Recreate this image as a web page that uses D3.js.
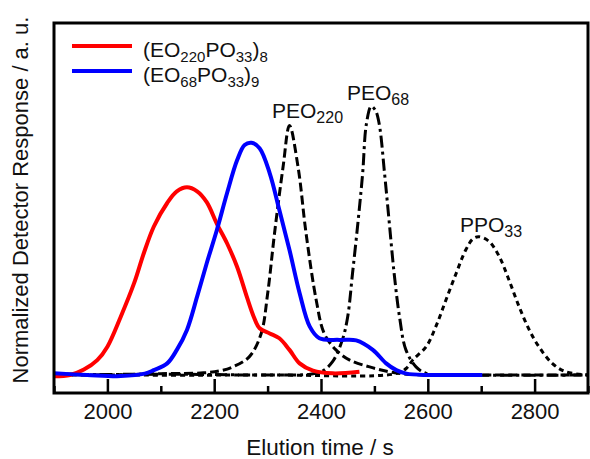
<!DOCTYPE html>
<html>
<head>
<meta charset="utf-8">
<script src="https://cdn.jsdelivr.net/npm/d3@7"></script>
<style>
  html, body { margin: 0; padding: 0; background: #fff; }
  svg { display: block; font-family: "Liberation Sans", Arial, sans-serif; }
</style>
</head>
<body>
<svg id="chart" width="590" height="459"></svg>
<script>
// Elution time (s) and normalized detector response for each trace
const redTime  = [1900, 1930, 1956, 1981, 2000, 2025, 2050, 2068, 2087, 2112, 2130, 2149, 2168, 2186, 2205, 2224, 2243, 2261, 2274, 2285, 2304, 2322, 2341, 2360, 2385, 2422, 2472];
const redValue = [-0.005, 0.0, 0.02, 0.055, 0.105, 0.216, 0.34, 0.45, 0.55, 0.637, 0.68, 0.695, 0.68, 0.64, 0.56, 0.488, 0.40, 0.29, 0.216, 0.173, 0.154, 0.136, 0.093, 0.043, 0.016, 0.006, 0.012];

const blueTime  = [1900, 1962, 2025, 2070, 2087, 2112, 2130, 2149, 2168, 2186, 2205, 2224, 2243, 2257, 2270, 2285, 2304, 2322, 2341, 2360, 2379, 2397, 2435, 2466, 2497, 2522, 2541, 2560, 2600, 2650, 2702];
const blueValue = [0.006, 0.0, -0.004, 0.005, 0.018, 0.043, 0.093, 0.167, 0.29, 0.414, 0.537, 0.673, 0.796, 0.852, 0.86, 0.84, 0.747, 0.611, 0.463, 0.303, 0.179, 0.136, 0.13, 0.128, 0.093, 0.043, 0.018, 0.005, 0.0, 0.0, 0.0];

const peo220Time  = [1900, 2000, 2100, 2180, 2210, 2235, 2266, 2288, 2300, 2313, 2329, 2341, 2357, 2372, 2391, 2406, 2428, 2453, 2491, 2528, 2560, 2700, 2900];
const peo220Value = [0.005, 0.0, 0.005, 0.008, 0.015, 0.03, 0.068, 0.154, 0.30, 0.525, 0.771, 0.924, 0.771, 0.525, 0.278, 0.154, 0.093, 0.056, 0.03, 0.012, 0.003, 0.0, 0.0];

const peo68Time  = [1900, 2100, 2300, 2380, 2403, 2422, 2440, 2450, 2459, 2469, 2478, 2485, 2494, 2502, 2509, 2519, 2528, 2537, 2547, 2559, 2578, 2597, 2650, 2900];
const peo68Value = [0.0, 0.003, 0.0, 0.003, 0.015, 0.05, 0.13, 0.216, 0.376, 0.561, 0.747, 0.93, 0.995, 0.98, 0.93, 0.747, 0.561, 0.376, 0.216, 0.093, 0.03, 0.006, 0.0, 0.0];

const ppo33Time  = [1900, 2300, 2540, 2560, 2572, 2597, 2615, 2634, 2653, 2671, 2685, 2696, 2715, 2734, 2752, 2771, 2790, 2808, 2833, 2858, 2900];
const ppo33Value = [0.0, 0.0, 0.005, 0.025, 0.056, 0.105, 0.179, 0.278, 0.376, 0.463, 0.505, 0.512, 0.494, 0.438, 0.352, 0.253, 0.167, 0.105, 0.043, 0.012, 0.0];

const majorTicks = [2000, 2200, 2400, 2600, 2800];
const minorTicks = [1900, 2100, 2300, 2500, 2700, 2900];

const svg = d3.select("#chart");
const plot = { left: 54, right: 588, top: 23, bottom: 393 };

const x = d3.scaleLinear().domain([1900, 2900]).range([plot.left, plot.right]);
const y = d3.scaleLinear().domain([-0.0667, 1.3037]).range([plot.bottom, plot.top]);

svg.append("defs").append("clipPath").attr("id", "plotClip")
  .append("rect")
  .attr("x", plot.left).attr("y", plot.top)
  .attr("width", plot.right - plot.left).attr("height", plot.bottom - plot.top);

const line = d3.line()
  .x(d => x(d[0]))
  .y(d => y(d[1]))
  .curve(d3.curveCatmullRom.alpha(0.5));

const traces = [
  { t: ppo33Time,  v: ppo33Value,  color: "#000", width: 3,   dash: "5,4" },
  { t: peo68Time,  v: peo68Value,  color: "#000", width: 3,   dash: "12,4,3,4" },
  { t: peo220Time, v: peo220Value, color: "#000", width: 3,   dash: "9,4" },
  { t: redTime,    v: redValue,    color: "#ff0000", width: 4, dash: null },
  { t: blueTime,   v: blueValue,   color: "#0000ff", width: 4, dash: null }
];

const curves = svg.append("g").attr("clip-path", "url(#plotClip)");
traces.forEach(tr => {
  curves.append("path")
    .datum(tr.t.map((t, i) => [t, tr.v[i]]))
    .attr("d", line)
    .attr("fill", "none")
    .attr("stroke", tr.color)
    .attr("stroke-width", tr.width)
    .attr("stroke-linejoin", "round")
    .attr("stroke-dasharray", tr.dash);
});

// Bottom axis: inward major and minor ticks
const majorAxis = d3.axisBottom(x).tickValues(majorTicks).tickSize(-14).tickPadding(10).tickFormat(d3.format("d"));
const minorAxis = d3.axisBottom(x).tickValues(minorTicks).tickSize(-7).tickFormat("");

const gMinor = svg.append("g").attr("transform", `translate(0,${plot.bottom})`).call(minorAxis);
gMinor.select(".domain").remove();
gMinor.selectAll("line").attr("stroke", "#000").attr("stroke-width", 2.5);

const gMajor = svg.append("g").attr("transform", `translate(0,${plot.bottom})`).call(majorAxis);
gMajor.select(".domain").remove();
gMajor.selectAll("line").attr("stroke", "#000").attr("stroke-width", 2.5);
gMajor.selectAll("text")
  .attr("font-family", "Liberation Sans, Arial, sans-serif")
  .attr("font-size", 22)
  .attr("fill", "#111");

// Frame
svg.append("rect")
  .attr("x", plot.left).attr("y", plot.top)
  .attr("width", plot.right - plot.left).attr("height", plot.bottom - plot.top)
  .attr("fill", "none").attr("stroke", "#000").attr("stroke-width", 3);

// Axis titles
svg.append("text")
  .attr("x", 320).attr("y", 455)
  .attr("text-anchor", "middle")
  .attr("font-size", 22.5).attr("fill", "#111")
  .text("Elution time / s");

svg.append("text")
  .attr("transform", "translate(28,200) rotate(-90)")
  .attr("text-anchor", "middle")
  .attr("font-size", 22).attr("fill", "#111")
  .text("Normalized Detector Response / a. u.");

// Text with subscripts: parts are [string, isSubscript]
function richText(g, px, py, parts, size, subSize) {
  const t = g.append("text").attr("x", px).attr("y", py)
    .attr("font-size", size).attr("fill", "#111");
  let lowered = false;
  parts.forEach(([s, sub]) => {
    const span = t.append("tspan").text(s);
    if (sub && !lowered) { span.attr("dy", 5).attr("font-size", subSize); lowered = true; }
    else if (sub) { span.attr("font-size", subSize); }
    else if (!sub && lowered) { span.attr("dy", -5); lowered = false; }
  });
  return t;
}

// Peak labels
richText(svg, 272, 118, [["PEO", false], ["220", true]], 21, 16);
richText(svg, 347, 100, [["PEO", false], ["68", true]], 21, 16);
richText(svg, 460, 232, [["PPO", false], ["33", true]], 21, 16);

// Legend
const legend = [
  { color: "#ff0000", y: 46, parts: [["(EO", false], ["220", true], ["PO", false], ["33", true], [")", false], ["8", true]] },
  { color: "#0000ff", y: 71, parts: [["(EO", false], ["68", true], ["PO", false], ["33", true], [")", false], ["9", true]] }
];
legend.forEach(l => {
  svg.append("line")
    .attr("x1", 72).attr("x2", 132).attr("y1", l.y).attr("y2", l.y)
    .attr("stroke", l.color).attr("stroke-width", 4);
  richText(svg, 143, l.y + 11, l.parts, 21, 15);
});
</script>
</body>
</html>
